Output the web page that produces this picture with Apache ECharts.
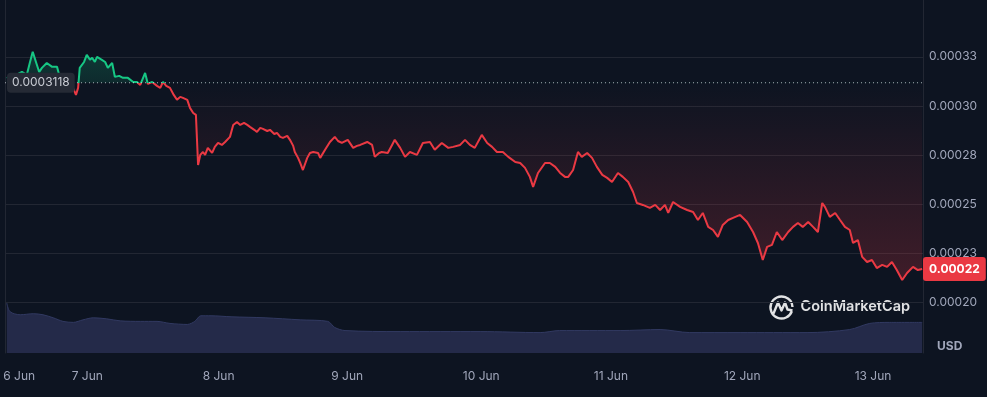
<!DOCTYPE html>
<html>
<head>
<meta charset="utf-8">
<script src="https://cdn.jsdelivr.net/npm/echarts@6/dist/echarts.min.js"></script>
<style>
  html, body { margin: 0; padding: 0; background: #0d1421; }
  #chart { width: 987px; height: 397px; }
</style>
</head>
<body>
<div id="chart"></div>
<script>
// hours since 7 Jun 00:00
const hours = [-15.4, -14.0, -12.6, -11.7, -11.1, -10.6, -10.0, -9.4, -8.9, -8.0, -7.0, -6.1, -5.7, -4.6, -3.3, -2.6, -2.2, -1.9, -1.1, -0.6,
  0.0, 0.4, 0.9, 1.3, 2.2, 2.8, 3.3, 4.1, 4.6, 5.4, 6.1, 7.0, 8.0, 8.7, 9.3, 10.2, 10.7, 11.5, 12.4, 13.0,
  13.5, 14.1, 14.8, 15.5, 16.1, 16.7, 17.2, 18.0, 18.5, 19.1, 19.6, 20.0, 20.4, 20.9, 21.3, 21.8, 22.6, 23.1, 23.7, 24.4,
  25.0, 25.9, 26.5, 27.2, 27.8, 28.5, 29.1, 29.6, 30.4, 30.9, 31.5, 32.0, 32.8, 33.3, 34.1, 34.6, 35.2, 35.7, 36.5, 37.0,
  37.6, 37.9, 38.5, 38.9, 39.4, 40.2, 40.7, 41.3, 42.2, 42.6, 43.5, 44.4, 45.3, 45.9, 46.6, 47.7, 48.7, 49.4, 50.0, 51.3,
  52.2, 52.7, 53.5, 54.0, 55.1, 55.9, 56.4, 57.4, 58.3, 59.2, 60.5, 61.6, 62.9, 63.8, 65.1, 66.3, 67.2, 68.5, 69.4, 70.3,
  71.2, 72.5, 73.5, 74.4, 75.3, 76.4, 77.4, 78.7, 79.6, 80.5, 81.4, 82.0, 82.9, 84.2, 85.1, 86.1, 87.0, 87.9, 88.5, 89.4,
  90.3, 91.0, 92.0, 92.9, 93.8, 94.8, 95.7, 96.6, 97.7, 98.6, 99.6, 100.5, 101.2, 102.3, 103.6, 104.6, 105.5, 106.4, 107.0, 107.9,
  109.2, 110.5, 111.6, 112.5, 113.4, 114.4, 115.3, 116.2, 117.1, 118.1, 119.0, 120.3, 121.6, 122.7, 123.6, 124.5, 125.3, 126.2, 127.1, 128.1,
  129.2, 130.1, 131.0, 131.9, 132.9, 133.8, 134.7, 135.5, 136.0, 136.9, 137.9, 138.8, 139.7, 140.6, 141.2, 142.1, 142.9, 143.8, 144.7, 145.6,
  146.6, 147.5, 148.4, 149.3, 150.3, 151.2, 152.3, 153.2, 154.0];

// price in units of 1e-5 USD
const priceE5 = [31.43, 31.53, 31.73, 31.58, 32.24, 32.76, 32.24, 31.73, 31.94, 32.19, 31.99, 31.99, 31.58, 31.33, 31.02, 30.56, 30.92, 31.94, 32.24, 32.60,
  32.35, 32.45, 32.24, 32.50, 32.35, 32.24, 31.94, 32.19, 31.48, 31.53, 31.43, 31.43, 31.22, 31.22, 31.07, 31.68, 31.12, 31.22, 31.02, 30.92,
  31.22, 31.02, 30.92, 30.56, 30.31, 30.46, 30.41, 30.31, 29.90, 29.64, 29.54, 26.99, 27.50, 27.65, 27.50, 27.86, 27.60, 27.91, 28.11, 28.01,
  28.16, 28.42, 29.03, 29.18, 29.03, 29.13, 29.03, 28.93, 28.78, 28.67, 28.88, 28.83, 28.72, 28.78, 28.57, 28.62, 28.42, 28.37, 28.47, 28.27,
  27.96, 27.65, 27.35, 27.09, 26.73, 27.35, 27.60, 27.65, 27.60, 27.35, 27.76, 28.16, 28.42, 28.21, 28.11, 28.27, 27.86, 27.96, 28.01, 28.16,
  28.01, 27.40, 27.60, 27.65, 27.60, 28.01, 28.27, 27.86, 27.40, 27.65, 27.50, 28.11, 28.16, 27.76, 28.11, 27.86, 27.91, 28.01, 28.27, 28.01,
  27.86, 28.52, 28.11, 27.91, 27.65, 27.65, 27.40, 27.14, 27.09, 26.84, 26.38, 25.87, 26.58, 27.09, 27.09, 26.89, 26.58, 26.38, 26.38, 26.73,
  27.65, 27.40, 27.60, 27.35, 26.89, 26.48, 26.33, 26.12, 26.58, 26.38, 26.12, 25.61, 25.05, 24.95, 24.80, 24.95, 24.69, 24.95, 24.54, 25.10,
  24.85, 24.69, 24.59, 24.18, 24.54, 23.83, 23.67, 23.32, 23.93, 24.18, 24.29, 24.44, 24.08, 23.57, 23.01, 22.14, 22.81, 22.91, 23.57, 23.16,
  23.57, 23.83, 24.03, 23.83, 24.08, 23.83, 23.57, 25.05, 24.85, 24.34, 24.54, 24.18, 23.83, 23.67, 23.01, 23.16, 22.30, 22.04, 22.14, 21.73,
  21.89, 21.79, 22.04, 21.63, 21.12, 21.48, 21.79, 21.63, 21.68];

const volHours = [-15.4, -14.8, -12.9, -10.5, -8.7, -6.8, -5.0, -3.1, -1.3, 0.6, 3.1, 5.6, 9.3, 12.4, 14.8, 18.0, 19.4, 20.5, 22.4, 26.1,
  32.4, 38.9, 44.0, 45.3, 47.2, 57.4, 72.2, 83.3, 86.9, 98.1, 105.5, 111.0, 120.3, 132.7, 140.6, 144.3, 148.0, 154.0];
const volumes = [98, 81, 75, 77, 75, 69, 62, 60, 65, 69, 67, 63, 62, 62, 58, 56, 62, 73, 73, 71,
  69, 65, 62, 50, 44, 42, 42, 40, 44, 44, 46, 40, 40, 40, 46, 58, 60, 60];

const tickHours = [-13.1, -0.5, 23.8, 47.6, 72.4, 96.4, 120.7, 144.9];
const tickLabels = ['6 Jun', '7 Jun', '8 Jun', '9 Jun', '10 Jun', '11 Jun', '12 Jun', '13 Jun'];

const baseline = 0.0003118;
const lastPrice = priceE5[priceE5.length - 1] * 1e-5;

const GREEN = '#16c784';
const RED = '#ea3943';
const GRID_LINE = '#222733';
const LABEL = '#a1a7bb';
const FONT = 'Inter, "Noto Sans", sans-serif';

const priceData = hours.map((h, i) => [h, priceE5[i] * 1e-5]);
const volData = volHours.map((h, i) => [h, volumes[i]]);

const xMin = -15.73, xMax = 154.15;

const chart = echarts.init(document.getElementById('chart'));
chart.setOption({
  backgroundColor: '#0d1421',
  animation: false,
  textStyle: { fontFamily: FONT },
  grid: [
    { left: 5, right: 64, top: 0, height: 302 },
    { left: 5, right: 64, top: 302, height: 51 }
  ],
  xAxis: [
    { type: 'value', gridIndex: 0, min: xMin, max: xMax, show: false },
    {
      type: 'value', gridIndex: 1, min: xMin, max: xMax,
      axisLine: { show: false }, axisTick: { show: false }, splitLine: { show: false },
      axisLabel: {
        customValues: tickHours,
        color: LABEL, fontSize: 12, margin: 17, fontFamily: FONT,
        formatter: v => tickLabels[tickHours.indexOf(v)] || ''
      }
    }
  ],
  yAxis: [
    {
      type: 'value', gridIndex: 0, position: 'right',
      min: 0.0002, max: 0.000354, interval: 0.000025,
      axisLine: { show: true, onZero: false, lineStyle: { color: GRID_LINE } },
      axisTick: { show: false },
      splitLine: { lineStyle: { color: [GRID_LINE, GRID_LINE, GRID_LINE, GRID_LINE, GRID_LINE, GRID_LINE, 'rgba(0,0,0,0)', 'rgba(0,0,0,0)'] } },
      axisLabel: {
        color: LABEL, fontSize: 12, margin: 6, fontFamily: FONT,
        formatter: v => v > 0.00034 ? '' : (v + 1e-9).toFixed(5)
      }
    },
    {
      type: 'value', gridIndex: 1, position: 'right', min: 0, max: 100,
      axisLine: { show: true, onZero: false, lineStyle: { color: GRID_LINE } },
      axisTick: { show: false }, axisLabel: { show: false }, splitLine: { show: false }
    },
    {
      type: 'value', gridIndex: 0, position: 'left',
      axisLine: { show: true, onZero: false, lineStyle: { color: GRID_LINE } },
      axisTick: { show: false }, axisLabel: { show: false }, splitLine: { show: false }
    },
    {
      type: 'value', gridIndex: 1, position: 'left',
      axisLine: { show: true, onZero: false, lineStyle: { color: GRID_LINE } },
      axisTick: { show: false }, axisLabel: { show: false }, splitLine: { show: false }
    }
  ],
  visualMap: {
    show: false,
    seriesIndex: 0,
    dimension: 1,
    pieces: [
      { gt: 0, lte: baseline, color: RED },
      { gt: baseline, lte: 0.001, color: GREEN }
    ],
    outOfRange: { color: RED }
  },
  series: [
    {
      name: 'Price',
      type: 'line',
      xAxisIndex: 0, yAxisIndex: 0,
      data: priceData,
      showSymbol: false,
      lineStyle: { width: 2 },
      areaStyle: {
        origin: baseline,
        color: {
          type: 'linear', x: 0, y: 0, x2: 0, y2: 302, global: true,
          colorStops: [
            { offset: 0, color: 'rgba(22,199,132,0.5)' },
            { offset: 0.274, color: 'rgba(22,199,132,0.18)' },
            { offset: 0.275, color: 'rgba(234,57,67,0)' },
            { offset: 1, color: 'rgba(234,57,67,0.36)' }
          ]
        }
      }
    },
    {
      name: 'Volume',
      type: 'line',
      xAxisIndex: 1, yAxisIndex: 1,
      data: volData,
      smooth: 0.3,
      showSymbol: false,
      lineStyle: { color: '#313961', width: 1 },
      areaStyle: { color: '#242a49', opacity: 1 }
    },
    {
      name: 'Open',
      type: 'line',
      xAxisIndex: 0, yAxisIndex: 0,
      z: 4,
      symbol: 'circle', symbolSize: 0, showSymbol: true,
      itemStyle: { color: 'rgba(0,0,0,0)' },
      lineStyle: { color: 'rgba(220,224,232,0.75)', type: [1, 3], width: 1 },
      data: [
        {
          value: [xMin, baseline],
          label: {
            show: true, position: 'right', distance: 2,
            formatter: '0.0003118',
            color: '#c9ccd4', fontSize: 12, fontFamily: FONT,
            backgroundColor: '#252a35', borderRadius: 4, padding: [4, 5]
          }
        },
        [xMax, baseline]
      ]
    },
    {
      name: 'Last',
      type: 'line',
      xAxisIndex: 0, yAxisIndex: 0,
      z: 4,
      symbol: 'circle', symbolSize: 0, showSymbol: true,
      itemStyle: { color: 'rgba(0,0,0,0)' },
      data: [
        {
          value: [xMax, lastPrice],
          label: {
            show: true, position: 'right', distance: 0,
            formatter: '0.00022',
            color: '#ffffff', fontSize: 12, fontWeight: 'bold', fontFamily: FONT,
            backgroundColor: RED, borderRadius: 3, padding: [6, 6]
          }
        }
      ]
    }
  ],
  graphic: [
    {
      type: 'text', left: 937, top: 340,
      style: { text: 'USD', fill: LABEL, font: 'bold 12px ' + FONT }
    },
    {
      type: 'group', left: 768, top: 294,
      children: [
        {
          type: 'arc',
          shape: { cx: 12, cy: 12, r: 11, startAngle: 0.35, endAngle: Math.PI * 2 - 0.05 },
          style: { stroke: 'rgba(255,255,255,0.88)', lineWidth: 2.4, fill: null }
        },
        {
          type: 'polyline',
          shape: { points: [[4, 18], [8.5, 7], [12, 15], [15.5, 7], [18, 14], [23, 15]] },
          style: { stroke: 'rgba(255,255,255,0.88)', lineWidth: 2.4, fill: null, lineJoin: 'round' }
        },
        {
          type: 'text', x: 31, y: 4,
          style: { text: 'CoinMarketCap', fill: 'rgba(255,255,255,0.88)', font: '600 14.5px ' + FONT }
        }
      ]
    }
  ]
});
</script>
</body>
</html>
